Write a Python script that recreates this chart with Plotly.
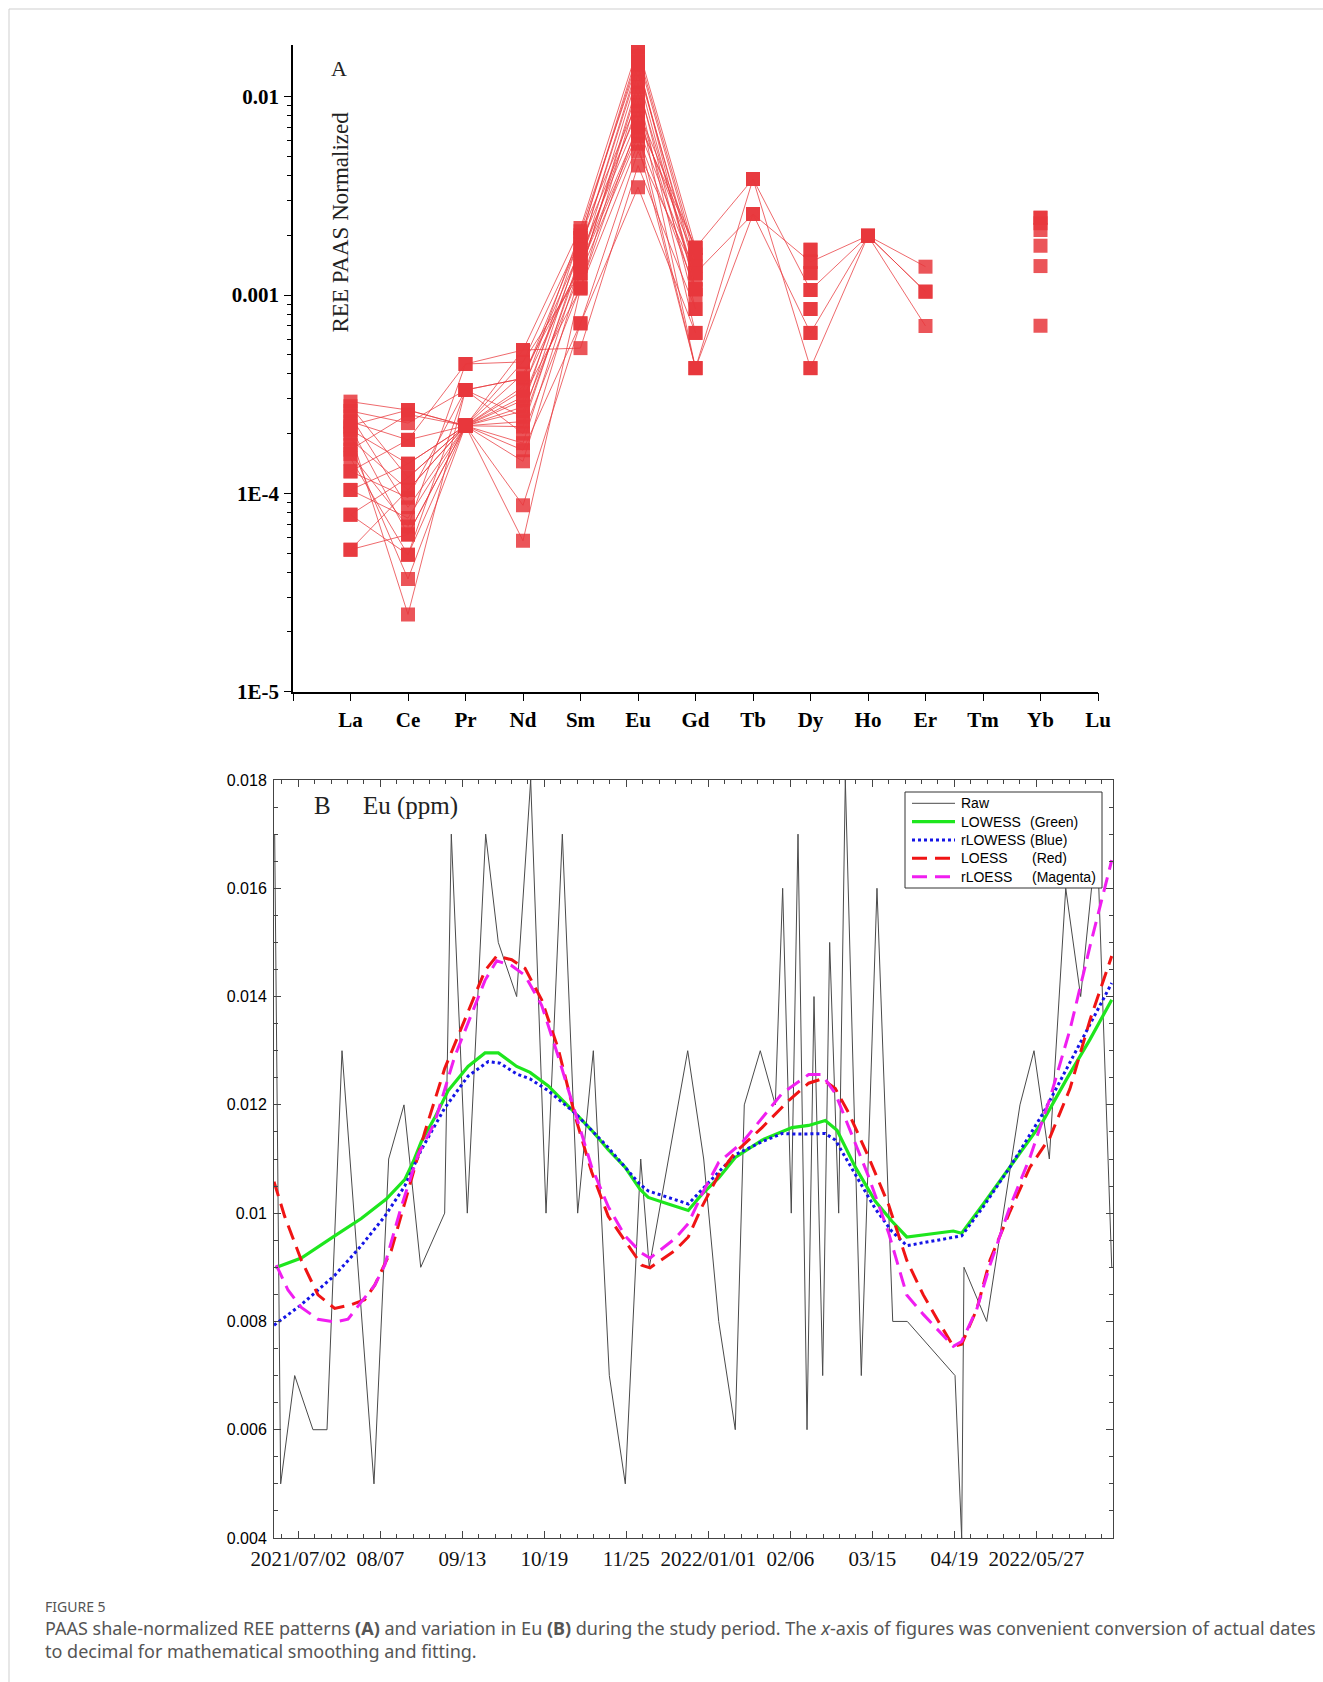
import plotly.graph_objects as go

# ---------------- Panel A data (PAAS normalized REE, one value per sample) ----------------
elements = ["La", "Ce", "Pr", "Nd", "Sm", "Eu", "Gd", "Tb", "Dy", "Ho", "Er", "Tm", "Yb", "Lu"]
N = None
La = [2.9e-4, 2.75e-4, 2.6e-4, 2.45e-4, 2.3e-4, 2.15e-4, 2.09e-4, 2.0e-4, 1.88e-4, 1.75e-4, 1.66e-4,
      1.58e-4, 1.5e-4, 1.29e-4, 1.29e-4, 1.04e-4, 1.04e-4, 7.8e-5, 7.8e-5, 5.2e-5, 5.2e-5, 2.2e-4]
Ce = [2.63e-4, 1.2e-4, 2.26e-4, 8.5e-5, 1.86e-4, 6.2e-5, 1.41e-4, 2.45e-5, 1.04e-4, 3.7e-5, 2.5e-4,
      6.8e-5, 4.9e-5, 1.86e-4, 9.5e-5, 1.41e-4, 7.5e-5, 1.2e-4, 4.9e-5, 6.2e-5, 1.04e-4, 2.63e-4]
Pr = [2.19e-4, 2.19e-4, 3.32e-4, 2.19e-4, 4.49e-4, 2.19e-4, 2.19e-4, 3.32e-4, 2.19e-4, 2.19e-4, 2.19e-4,
      4.49e-4, 2.19e-4, 2.19e-4, 3.32e-4, 2.19e-4, 2.19e-4, 2.19e-4, 3.32e-4, 2.19e-4, 2.19e-4, 2.19e-4]
Nd = [5.28e-4, 4.6e-4, 3.8e-4, 3.45e-4, 4.6e-4, 3.07e-4, 2.73e-4, 2.43e-4, 2.17e-4, 1.79e-4, 1.45e-4,
      5.28e-4, 8.7e-5, 5.76e-5, 3.8e-4, 2.95e-4, 2.6e-4, 2.3e-4, 2.0e-4, 1.65e-4, 3.3e-4, 4.0e-4]
Sm = [2.18e-3, 1.94e-3, 1.69e-3, 1.45e-3, 1.29e-3, 1.08e-3, 2.0e-3, 1.8e-3, 1.6e-3, 1.45e-3, 1.29e-3,
      5.4e-4, 7.2e-4, 1.08e-3, 1.94e-3, 1.69e-3, 1.29e-3, 1.5e-3, 1.1e-3, 7.2e-4, 2.1e-3, 1.4e-3]
Eu = [0.0178, 0.016, 0.0145, 0.013, 0.0118, 0.0105, 0.0095, 0.0085, 0.0078, 0.007, 0.0063,
      0.0045, 0.0035, 0.0058, 0.0168, 0.0138, 0.0112, 0.009, 0.0074, 0.0053, 0.015, 0.0066]
Gd = [1.73e-3, 1.5e-3, 1.29e-3, 1.07e-3, 8.5e-4, 6.44e-4, 4.28e-4, 1.73e-3, 1.5e-3, 1.29e-3, 1.07e-3,
      8.5e-4, 6.44e-4, 4.28e-4, 1.6e-3, 1.4e-3, 1.2e-3, 1.0e-3, 1.73e-3, 1.29e-3, 1.07e-3, 4.28e-4]
Tb = [3.85e-3, N, 2.56e-3, N, N, N, 3.85e-3, N, N, N, N, N, N, 2.56e-3, N, N, N, N, N, N, N, N]
Dy = [1.06e-3, 1.69e-3, 1.47e-3, 1.29e-3, 8.5e-4, 1.69e-3, 4.28e-4, 1.29e-3, 1.06e-3, 8.5e-4, 6.44e-4,
      4.28e-4, 1.47e-3, 6.44e-4, N, N, N, N, N, N, N, N]
Ho = [1.99e-3, N, 1.99e-3, N, N, N, 1.99e-3, N, N, N, N, N, N, 1.99e-3, N, N, N, N, N, N, N, N]
Er = [1.39e-3, N, 1.04e-3, N, N, N, 6.98e-4, N, N, N, N, N, N, 1.04e-3, N, N, N, N, N, N, N, N]
Tm = [N] * 22
Yb = [N, 2.45e-3, N, 2.3e-3, 2.13e-3, 1.77e-3, N, 1.4e-3, 7.0e-4, 2.45e-3, N, N, N, N, N, N, N, N, N, N, N, N]
Lu = [N] * 22

# ---------------- Panel B data (Eu ppm vs decimal year) ----------------
raw_x = [2021.4712, 2021.4785, 2021.4956, 2021.5179, 2021.5350, 2021.5533, 2021.5923, 2021.6102,
         2021.6289, 2021.6493, 2021.6785, 2021.6866, 2021.7061, 2021.7285, 2021.7439, 2021.7663,
         2021.7834, 2021.8021, 2021.8220, 2021.8407, 2021.8598, 2021.8793, 2021.8988, 2021.9176,
         2021.9280, 2021.9749, 2021.9944, 2022.0127, 2022.0329, 2022.0439, 2022.0634, 2022.0817,
         2022.0907, 2022.1012, 2022.1094, 2022.1204, 2022.1289, 2022.1395, 2022.1480, 2022.1590,
         2022.1671, 2022.1866, 2022.2057, 2022.2249, 2022.2427, 2022.3009, 2022.3090, 2022.3118,
         2022.3395, 2022.3801, 2022.3972, 2022.4159, 2022.4359, 2022.4541, 2022.4740, 2022.4920]
raw_y = [0.017, 0.005, 0.007, 0.006, 0.006, 0.013, 0.005, 0.011, 0.012, 0.009, 0.010, 0.017, 0.010,
         0.017, 0.015, 0.014, 0.018, 0.010, 0.017, 0.010, 0.013, 0.007, 0.005, 0.011, 0.009, 0.013,
         0.011, 0.008, 0.006, 0.012, 0.013, 0.012, 0.016, 0.010, 0.017, 0.006, 0.014, 0.007, 0.015,
         0.010, 0.018, 0.007, 0.016, 0.008, 0.008, 0.007, 0.004, 0.009, 0.008, 0.012, 0.013, 0.011,
         0.016, 0.014, 0.017, 0.009]

lowess_x = [2021.4720, 2021.5037, 2021.5444, 2021.5768, 2021.6073, 2021.6298, 2021.6399, 2021.6500,
            2021.6663, 2021.6826, 2021.7070, 2021.7277, 2021.7439, 2021.7663, 2021.7826, 2021.8049,
            2021.8374, 2021.8578, 2021.8780, 2021.8984, 2021.9167, 2021.9268, 2021.9512, 2021.9756,
            2021.9923, 2022.0127, 2022.0329, 2022.0655, 2022.1021, 2022.1224, 2022.1427, 2022.1570,
            2022.1793, 2022.2037, 2022.2240, 2022.2420, 2022.2988, 2022.3090, 2022.3354, 2022.3679,
            2022.4085, 2022.4371, 2022.4655, 2022.4920]
lowess_y = [0.00899, 0.00917, 0.00958, 0.00990, 0.01026, 0.01062, 0.01094, 0.01132, 0.01176, 0.01226,
            0.01271, 0.01296, 0.01296, 0.01271, 0.01260, 0.01235, 0.01185, 0.01153, 0.01117, 0.01085,
            0.01044, 0.01029, 0.01017, 0.01005, 0.01035, 0.01065, 0.01103, 0.01135, 0.01158, 0.01162,
            0.01171, 0.01153, 0.01085, 0.01022, 0.00985, 0.00956, 0.00967, 0.00963, 0.01017, 0.01085,
            0.01171, 0.01248, 0.01321, 0.01394]

rlowess_x = [2021.4704, 2021.5037, 2021.5444, 2021.5768, 2021.6054, 2021.6298, 2021.6500, 2021.6785,
             2021.7070, 2021.7317, 2021.7460, 2021.7663, 2021.7826, 2021.8049, 2021.8374, 2021.8780,
             2021.9167, 2021.9268, 2021.9756, 2021.9923, 2022.0329, 2022.0655, 2022.0899, 2022.1102,
             2022.1427, 2022.1549, 2022.1793, 2022.2037, 2022.2240, 2022.2420, 2022.3090, 2022.3354,
             2022.3679, 2022.4085, 2022.4371, 2022.4655, 2022.4920]
rlowess_y = [0.00793, 0.00831, 0.00885, 0.00940, 0.00994, 0.01050, 0.01117, 0.01194, 0.01253, 0.01280,
             0.01277, 0.01257, 0.01248, 0.01226, 0.01185, 0.01121, 0.01053, 0.01041, 0.01017, 0.01044,
             0.01108, 0.01132, 0.01147, 0.01146, 0.01147, 0.01135, 0.01071, 0.01008, 0.00966, 0.00940,
             0.00958, 0.01012, 0.01085, 0.01185, 0.01267, 0.01348, 0.01425]

loess_x = [2021.4704, 2021.4834, 2021.5037, 2021.5240, 2021.5444, 2021.5646, 2021.5810, 2021.5932,
           2021.6134, 2021.6338, 2021.6541, 2021.6785, 2021.7070, 2021.7277, 2021.7420, 2021.7602,
           2021.7765, 2021.7968, 2021.8171, 2021.8374, 2021.8578, 2021.8780, 2021.8984, 2021.9188,
           2021.9289, 2021.9594, 2021.9756, 2021.9923, 2022.0127, 2022.0329, 2022.0655, 2022.0980,
           2022.1224, 2022.1387, 2022.1549, 2022.1712, 2022.1956, 2022.2200, 2022.2420, 2022.2622,
           2022.2826, 2022.2988, 2022.3090, 2022.3273, 2022.3435, 2022.3679, 2022.3923, 2022.4167,
           2022.4411, 2022.4655, 2022.4920]
loess_y = [0.01058, 0.00994, 0.00913, 0.00849, 0.00824, 0.00831, 0.00840, 0.00867, 0.00931, 0.01040,
           0.01149, 0.01267, 0.01371, 0.01448, 0.01475, 0.01468, 0.01452, 0.01394, 0.01303, 0.01180,
           0.01076, 0.00994, 0.00949, 0.00904, 0.00899, 0.00931, 0.00956, 0.01012, 0.01071, 0.01112,
           0.01158, 0.01208, 0.01240, 0.01248, 0.01230, 0.01185, 0.01103, 0.01015, 0.00913, 0.00849,
           0.00795, 0.00754, 0.00758, 0.00822, 0.00913, 0.01003, 0.01085, 0.01140, 0.01230, 0.01357,
           0.01475]

rloess_x = [2021.4732, 2021.4874, 2021.5037, 2021.5240, 2021.5444, 2021.5606, 2021.5768, 2021.5932,
            2021.6054, 2021.6256, 2021.6460, 2021.6663, 2021.6907, 2021.7151, 2021.7277, 2021.7420,
            2021.7602, 2021.7765, 2021.7968, 2021.8171, 2021.8374, 2021.8578, 2021.8780, 2021.8984,
            2021.9188, 2021.9289, 2021.9594, 2021.9756, 2021.9923, 2022.0127, 2022.0411, 2022.0655,
            2022.0899, 2022.1224, 2022.1387, 2022.1549, 2022.1712, 2022.1956, 2022.2200, 2022.2420,
            2022.2622, 2022.2826, 2022.2988, 2022.3090, 2022.3273, 2022.3435, 2022.3679, 2022.3923,
            2022.4167, 2022.4411, 2022.4655, 2022.4920]
rloess_y = [0.00904, 0.00858, 0.00826, 0.00804, 0.00799, 0.00804, 0.00836, 0.00867, 0.00904, 0.01012,
            0.01108, 0.01167, 0.01289, 0.01384, 0.01430, 0.01466, 0.01457, 0.01439, 0.01384, 0.01289,
            0.01185, 0.01085, 0.01012, 0.00958, 0.00926, 0.00917, 0.00953, 0.00981, 0.01035, 0.01094,
            0.01130, 0.01176, 0.01221, 0.01256, 0.01256, 0.01221, 0.01158, 0.01067, 0.00963, 0.00849,
            0.00813, 0.00781, 0.00754, 0.00763, 0.00822, 0.00904, 0.01012, 0.01103, 0.01212, 0.01339,
            0.01493, 0.01652]

b_tickvals = [2021.5, 2021.6, 2021.7, 2021.8, 2021.9, 2022.0, 2022.1, 2022.2, 2022.3, 2022.4]
b_ticktext = ["2021/07/02", "08/07", "09/13", "10/19", "11/25", "2022/01/01", "02/06", "03/15",
              "04/19", "2022/05/27"]
b_yvals = [0.004, 0.006, 0.008, 0.010, 0.012, 0.014, 0.016, 0.018]
b_ytext = ["0.004", "0.006", "0.008", "0.01", "0.012", "0.014", "0.016", "0.018"]

legend_names = ["Raw", "LOWESS", "rLOWESS", "LOESS", "rLOESS"]
legend_tags = ["", "(Green)", "(Blue)", "(Red)", "(Magenta)"]

# ---------------- figure ----------------
W, H = 1323, 1682
def px(x): return x / W
def py(y): return 1 - y / H

SERIF = "Liberation Serif"
SANS = "Liberation Sans"
DASH = "15px,8px"

series_styles = [
    dict(color="#4a4a4a", width=1, dash="solid"),
    dict(color="#1ee61e", width=3.2, dash="solid"),
    dict(color="#1414e6", width=3, dash="dot"),
    dict(color="#f01414", width=3, dash=DASH),
    dict(color="#f01ef0", width=3, dash=DASH),
]

fig = go.Figure()

columns = [La, Ce, Pr, Nd, Sm, Eu, Gd, Tb, Dy, Ho, Er, Tm, Yb, Lu]
xcat = list(range(len(elements)))
for i in range(len(La)):
    vals = [col[i] for col in columns]
    fig.add_trace(go.Scatter(
        x=xcat, y=vals, mode="lines+markers", xaxis="x", yaxis="y",
        line=dict(color="rgba(232,58,62,0.85)", width=0.9),
        marker=dict(symbol="square", size=14, color="rgba(232,55,60,0.85)", line=dict(width=0)),
        connectgaps=False, showlegend=False, hoverinfo="skip"))

series_xy = [(raw_x, raw_y), (lowess_x, lowess_y), (rlowess_x, rlowess_y),
             (loess_x, loess_y), (rloess_x, rloess_y)]
for (sx, sy), name, tag, st in zip(series_xy, legend_names, legend_tags, series_styles):
    fig.add_trace(go.Scatter(x=sx, y=sy, mode="lines", name=(name + " " + tag).strip(),
                             xaxis="x2", yaxis="y2", line=st, showlegend=False))

minor_a = [k * 10.0 ** e for e in range(-5, -1) for k in range(2, 10) if k * 10.0 ** e < 0.0182]

# frame + manual legend (box, line samples, labels)
shapes = [
    dict(type="line", xref="paper", yref="paper", x0=px(9), x1=1, y0=py(9), y1=py(9),
         line=dict(color="#cfcfcf", width=1)),
    dict(type="line", xref="paper", yref="paper", x0=px(9), x1=px(9), y0=py(9), y1=0,
         line=dict(color="#cfcfcf", width=1)),
    dict(type="rect", xref="paper", yref="paper", x0=px(905), x1=px(1102), y0=py(888), y1=py(792),
         fillcolor="white", line=dict(color="#333", width=1), layer="above"),
]
annotations = []
row_y = [803.3, 821.7, 840.0, 858.3, 876.7]
tag_x = [None, 1028, 1028, 1030, 1030]
for name, tag, st, ry, tx in zip(legend_names, legend_tags, series_styles, row_y, tag_x):
    shapes.append(dict(type="line", xref="paper", yref="paper", x0=px(912), x1=px(955),
                       y0=py(ry), y1=py(ry), layer="above",
                       line=dict(color=st["color"], width=st["width"], dash=st["dash"])))
    annotations.append(dict(text=name, x=px(959), y=py(ry), xref="paper", yref="paper",
                            xanchor="left", yanchor="middle", showarrow=False,
                            font=dict(family=SANS, size=14, color="black")))
    if tag:
        annotations.append(dict(text=tag, x=px(tx), y=py(ry), xref="paper", yref="paper",
                                xanchor="left", yanchor="middle", showarrow=False,
                                font=dict(family=SANS, size=14, color="black")))

annotations += [
    dict(text="A", x=px(339), y=py(69), xref="paper", yref="paper", showarrow=False,
         xanchor="center", yanchor="middle", font=dict(family=SERIF, size=22, color="#222")),
    dict(text="REE PAAS Normalized", x=px(340.5), y=py(222), xref="paper", yref="paper",
         showarrow=False, textangle=-90, xanchor="center", yanchor="middle",
         font=dict(family=SERIF, size=23, color="#222")),
    dict(text="B", x=px(322), y=py(806), xref="paper", yref="paper", showarrow=False,
         xanchor="center", yanchor="middle", font=dict(family=SERIF, size=25, color="#222")),
    dict(text="Eu (ppm)", x=px(410), y=py(806), xref="paper", yref="paper", showarrow=False,
         xanchor="center", yanchor="middle", font=dict(family=SERIF, size=25, color="#222")),
    dict(text="FIGURE 5", x=px(43), y=py(1606), xref="paper", yref="paper", showarrow=False,
         xanchor="left", yanchor="middle", font=dict(family="Noto Sans", size=14, color="#555")),
    dict(text="PAAS shale-normalized REE patterns <b>(A)</b> and variation in Eu <b>(B)</b> during the study period. "
              "The <i>x</i>-axis of figures was convenient conversion of actual dates",
         x=px(43), y=py(1628), xref="paper", yref="paper", showarrow=False,
         xanchor="left", yanchor="middle",
         font=dict(family="Noto Sans", size=18, color="#555")),
    dict(text="to decimal for mathematical smoothing and fitting.",
         x=px(43), y=py(1651), xref="paper", yref="paper", showarrow=False,
         xanchor="left", yanchor="middle",
         font=dict(family="Noto Sans", size=18, color="#555")),
]

fig.update_layout(
    width=W, height=H, margin=dict(l=0, r=0, t=0, b=0, autoexpand=False),
    paper_bgcolor="white", plot_bgcolor="white", showlegend=False,
    font=dict(family=SANS, color="black"),
    xaxis=dict(domain=[px(293), px(1098)], range=[-1, 13], anchor="y", automargin=False,
               tickvals=[-1] + xcat, ticktext=[""] + elements,
               ticks="outside", ticklen=8, tickwidth=1.2, tickcolor="black",
               showline=True, linecolor="black", linewidth=1.5, showgrid=False, zeroline=False,
               tickfont=dict(family=SERIF, size=21, weight="bold", color="black"),
               ticklabelstandoff=0),
    yaxis=dict(domain=[py(691.6), py(45)], type="log", range=[-5, -1.739], anchor="x",
               automargin=False,
               tickvals=[1e-5, 1e-4, 1e-3, 1e-2], ticktext=["1E-5", "1E-4", "0.001", "0.01"],
               ticks="outside", ticklen=7, tickwidth=1.2, tickcolor="black",
               minor=dict(tickvals=minor_a, ticks="outside", ticklen=4, tickcolor="black", tickwidth=1),
               showline=True, linecolor="black", linewidth=1.5, showgrid=False, zeroline=False,
               tickfont=dict(family=SERIF, size=21, weight="bold", color="black"),
               ticklabelstandoff=1),
    xaxis2=dict(domain=[px(274), px(1113)], range=[2021.47037, 2022.49354], anchor="y2",
                automargin=False,
                tickvals=b_tickvals, ticktext=b_ticktext, ticks="inside", ticklen=7,
                tickcolor="#444", tickwidth=1,
                minor=dict(dtick=0.02, tick0=2021.5, ticks="inside", ticklen=4, tickcolor="#444"),
                showline=True, mirror="ticks", linecolor="#444", linewidth=1,
                showgrid=False, zeroline=False,
                tickfont=dict(family=SERIF, size=21, color="#111"), ticklabelstandoff=2),
    yaxis2=dict(domain=[py(1538), py(780)], range=[0.004, 0.018], anchor="x2", automargin=False,
                tickvals=b_yvals, ticktext=b_ytext, ticks="inside", ticklen=7,
                tickcolor="#444", tickwidth=1,
                minor=dict(dtick=0.0005, tick0=0.004, ticks="inside", ticklen=4, tickcolor="#444"),
                showline=True, mirror="ticks", linecolor="#444", linewidth=1,
                showgrid=False, zeroline=False,
                tickfont=dict(family=SANS, size=16, color="black"), ticklabelstandoff=3),
    annotations=annotations,
    shapes=shapes,
)

fig.write_html("out.html", config={"displayModeBar": False},
               post_script="document.body.style.margin='0';")
